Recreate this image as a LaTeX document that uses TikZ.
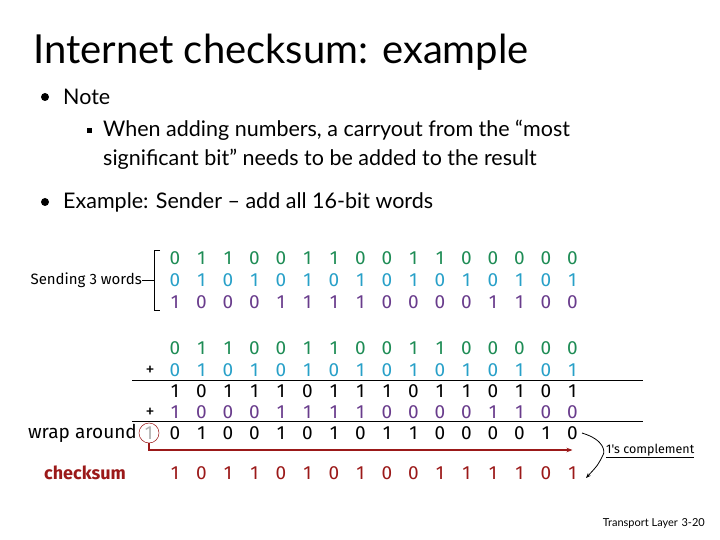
\documentclass[tikz,border=0pt]{standalone}
\usepackage{fontspec}
\setmainfont{Lato}
\newfontfamily\comic{Fira Sans}
\usetikzlibrary{arrows.meta}
\definecolor{cgreen}{RGB}{30,140,85}
\definecolor{ccyan}{RGB}{40,160,200}
\definecolor{cpurple}{RGB}{105,60,140}
\definecolor{cred}{RGB}{155,25,25}
\tikzset{
  bit/.style={inner sep=0pt,font=\comic\fontsize{19}{19}\selectfont},
  lab/.style={inner sep=0pt,font=\comic\fontsize{18}{18}\selectfont},
  rule/.style={line width=0.8pt},
}
\newcommand{\bitrow}[4]{%
  \foreach \b [count=\i] in {#3} {\node[bit,text=#4] (#1-\i) at ({175+(\i-1)*26.5},#2) {\b};}}
\begin{document}
\begin{tikzpicture}[x=1pt,y=-1pt]
\useasboundingbox (0,0) rectangle (720,540);
\node[anchor=base west,inner sep=0pt,font=\fontsize{40}{40}\selectfont] (title) at (33,64) {Internet checksum: example};
\node[circle,fill=black,inner sep=0pt,minimum size=8pt] (b1) at (45,97) {};
\node[anchor=west,inner sep=0pt,font=\fontsize{21.5}{21.5}\selectfont] (t1) at (63,97) {Note};
\node[fill=black,inner sep=0pt,minimum size=5pt] (b2) at (89,131) {};
\node[anchor=north west,inner sep=0pt,align=left,font=\fontsize{21.5}{28.5}\selectfont] (t2) at (103,120) {When adding numbers, a carryout from the “most\\significant bit” needs to be added to the result};
\node[circle,fill=black,inner sep=0pt,minimum size=8pt] (b3) at (45,202) {};
\node[anchor=west,inner sep=0pt,font=\fontsize{21.5}{21.5}\selectfont] (t3) at (63,202) {Example: Sender -- add all 16-bit words};

\bitrow{a}{258}{0,1,1,0,0,1,1,0,0,1,1,0,0,0,0,0}{cgreen}
\bitrow{b}{280}{0,1,0,1,0,1,0,1,0,1,0,1,0,1,0,1}{ccyan}
\bitrow{c}{302}{1,0,0,0,1,1,1,1,0,0,0,0,1,1,0,0}{cpurple}
\node[lab,anchor=east,font=\comic\fontsize{15}{15}\selectfont] (send) at (142,280) {Sending 3 words};
\draw[line width=0.7pt] (160,250) -- (154,250) -- (154,310) -- (160,310);
\draw[line width=0.7pt] (send.east) -- (154,280);

\bitrow{d}{348}{0,1,1,0,0,1,1,0,0,1,1,0,0,0,0,0}{cgreen}
\bitrow{e}{370}{0,1,0,1,0,1,0,1,0,1,0,1,0,1,0,1}{ccyan}
\bitrow{f}{391}{1,0,1,1,1,0,1,1,1,0,1,1,0,1,0,1}{black}
\bitrow{g}{412}{1,0,0,0,1,1,1,1,0,0,0,0,1,1,0,0}{cpurple}
\bitrow{h}{433}{0,1,0,0,1,0,1,0,1,1,0,0,0,0,1,0}{black}
\bitrow{k}{473}{1,0,1,1,0,1,0,1,0,0,1,1,1,1,0,1}{cred}
\node[lab] (p1) at (150,371) {+};
\node[lab] (p2) at (150,413) {+};
\draw[rule] (132,380) -- (643,380);
\draw[rule] (132,421) -- (643,421);
\node[lab,anchor=east,font=\comic\fontsize{19}{19}\selectfont] (wrap) at (137,433) {wrap around};
\node[bit,text=gray!60] (one) at (149,433) {1};
\node[draw=cred,circle,line width=0.5pt,minimum size=20pt,inner sep=0pt] (oc) at (149,433) {};
\coordinate (bend) at (149,450);
\draw[cred,line width=1.2pt,-{Stealth[length=6pt]}] (oc.south) -- (bend) -- (h-16.center |- bend);
\node[lab,anchor=east,text=cred,font=\comic\bfseries\fontsize{18}{18}\selectfont] (cs) at (126,473) {checksum};
\draw[line width=0.8pt,-{Stealth[length=5pt]}] (h-16.east) ++(4,0) .. controls (605,440) and (605,452) .. (603,455) .. controls (598,465) .. (586,478);
\node[anchor=west,inner sep=1pt,font=\comic\fontsize{12.5}{12.5}\selectfont] (comp) at (605,451) {\underline{1's complement}};
\node[anchor=base east,inner sep=0pt,font=\fontsize{11}{11}\selectfont] (foot) at (705,526) {Transport Layer\,\,3-20};
\end{tikzpicture}
\end{document}
